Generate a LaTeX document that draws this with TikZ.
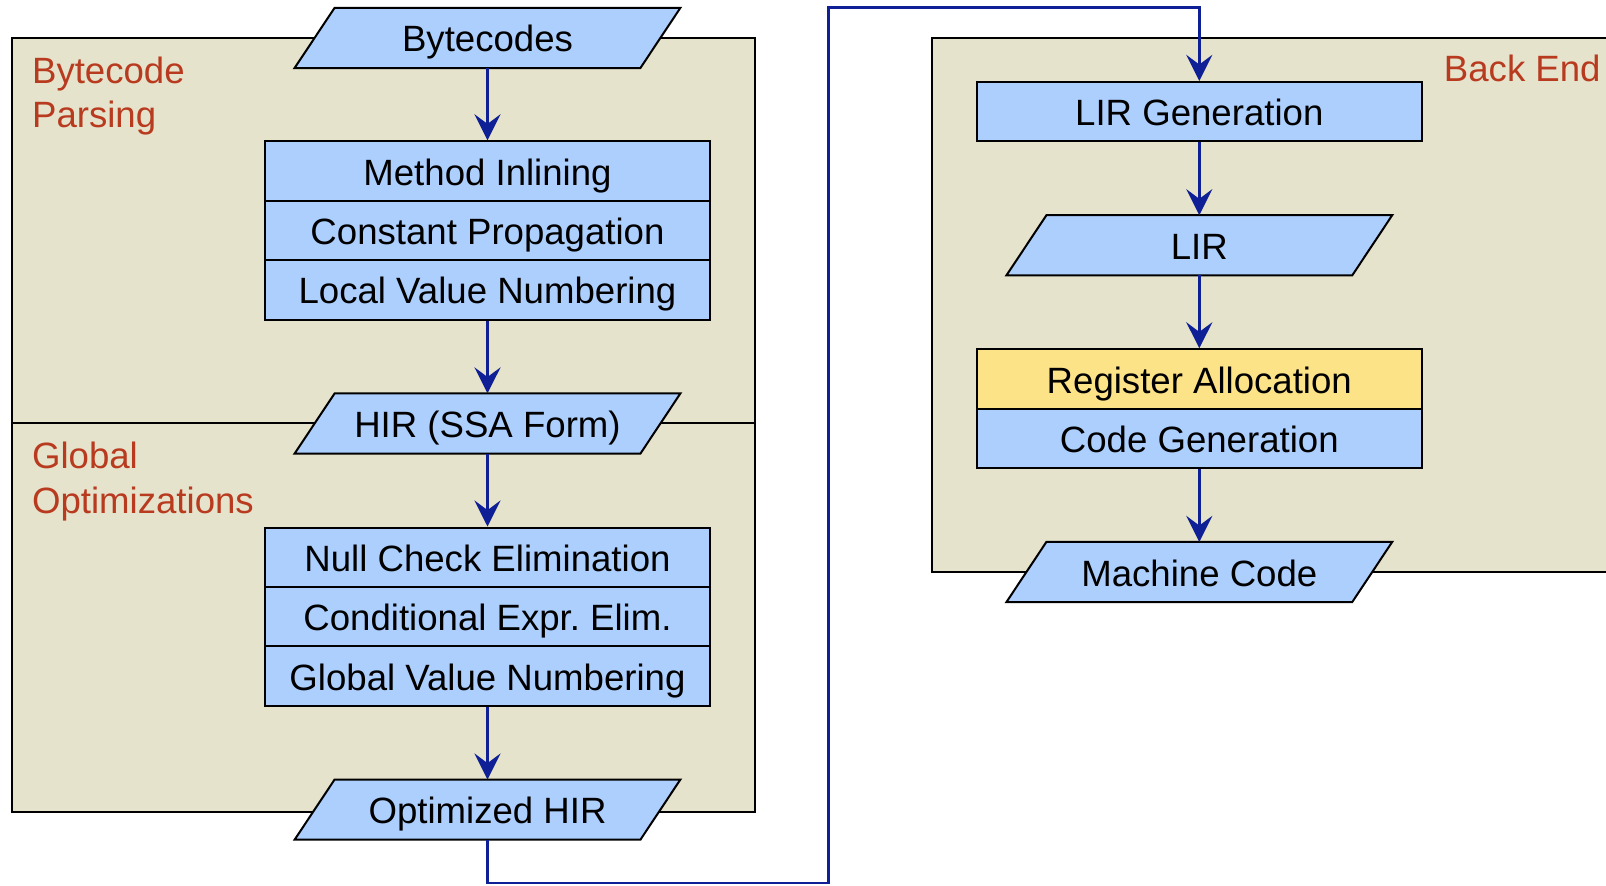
\documentclass[tikz,border=0pt]{standalone}
\usepackage{fontspec}
\setmainfont{Liberation Sans}
\usetikzlibrary{arrows.meta}
\frenchspacing
\definecolor{boxblue}{HTML}{ADCFFE}
\definecolor{panelbg}{HTML}{E5E3CB}
\definecolor{regyellow}{HTML}{FDE388}
\definecolor{stagered}{HTML}{B83A1F}
\definecolor{flowblue}{HTML}{0F1F96}
\pgfdeclarelayer{panels}
\pgfdeclarelayer{frames}
\pgfsetlayers{panels,frames,main}
\begin{document}
\begin{tikzpicture}[x=0.5pt,y=-0.5pt,
  font=\fontsize{18.3}{22.2}\selectfont,
  pass/.style={draw=black, line width=1pt, fill=boxblue,
    minimum width=222.25pt, minimum height=29.7pt, inner sep=0pt,
    text height=17pt, text depth=3pt},
  data/.style={minimum width=192.5pt, minimum height=29.7pt, inner sep=0pt,
    text height=17pt, text depth=3pt},
  dataframe/.style={draw=black, line width=1pt, fill=boxblue, line join=miter},
  panel/.style={draw=black, line width=1pt, fill=panelbg},
  stage/.style={text=stagered, align=left, inner sep=0pt},
  flow/.style={draw=flowblue, line width=1.4pt,
    -{Stealth[length=13pt, width=13pt, inset=4.8pt]}}]
\useasboundingbox (0,0) rectangle (1606,885);
\clip (0,0) rectangle (1606,885);

\begin{pgfonlayer}{panels}
  % front end panel, split into the two phases
  \path[panel] (12.3,37.9) rectangle (754.8,812.2);
  \draw[line width=1pt] (12.3,423) -- (754.8,423);
  % back end panel, running off the right edge
  \path[panel] (932,37.9) rectangle (1625,571.5);
\end{pgfonlayer}

% phase labels
\node[stage, anchor=base west] (lblparse) at (31.7,127.7) {Bytecode\\Parsing};
\node[stage, anchor=base west] (lblglobal) at (31.7,513.3) {Global\\Optimizations};
\node[stage, anchor=base east] (lblback) at (1601,81) {Back End};

% front end: bytecode parsing
\node[data] (bc) at (487.5,37.9) {Bytecodes};
\node[pass] (inl) at (487.5,171.0) {Method Inlining};
\node[pass] (cp)  at (487.5,230.4) {Constant Propagation};
\node[pass] (lvn) at (487.5,289.8) {Local Value Numbering};
\node[data] (hir) at (487.5,423.5) {HIR (SSA Form)};

% front end: global optimizations
\node[pass] (nce) at (487.5,557.2) {Null Check Elimination};
\node[pass] (cee) at (487.5,616.6) {Conditional Expr. Elim.};
\node[pass] (gvn) at (487.5,676.0) {Global Value Numbering};
\node[data] (ohir) at (487.5,809.6) {Optimized HIR};

% back end
\node[pass] (lirgen) at (1199.3,111.6) {LIR Generation};
\node[data] (lir) at (1199.3,245.3) {LIR};
\node[pass, fill=regyellow] (ra) at (1199.3,379.0) {Register Allocation};
\node[pass] (cg) at (1199.3,438.4) {Code Generation};
\node[data] (mc) at (1199.3,572.0) {Machine Code};

% slanted frames behind the data nodes
\begin{pgfonlayer}{frames}
  \foreach \n in {bc,hir,ohir,lir,mc}
    \draw[dataframe] ([xshift=20pt]\n.north west) -- (\n.north east)
      -- ([xshift=-20pt]\n.south east) -- (\n.south west) -- cycle;
\end{pgfonlayer}

% flow
\draw[flow] (bc.south) -- (inl.north);
\draw[flow] (lvn.south) -- (hir.north);
\draw[flow] (hir.south) -- (nce.north);
\draw[flow] (gvn.south) -- (ohir.north);

\coordinate (loopbot) at (828.6,882.9);
\coordinate (looptop) at (828.6,7.2);
\draw[flow] (ohir.south) |- (loopbot) -- (looptop) -| (lirgen.north);

\draw[flow] (lirgen.south) -- (lir.north);
\draw[flow] (lir.south) -- (ra.north);
\draw[flow] (cg.south) -- (mc.north);
\end{tikzpicture}
\end{document}
